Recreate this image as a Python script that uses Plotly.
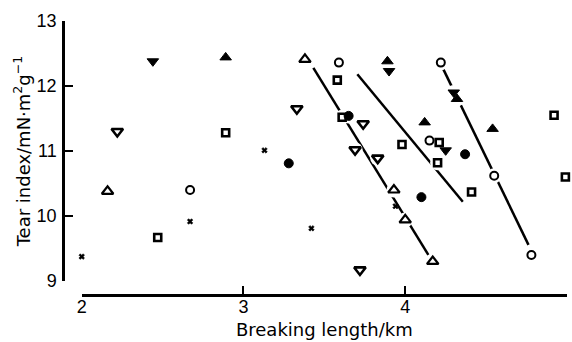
import plotly.graph_objects as go

# ---- data (breaking length km, tear index) ----
tri_open_x = [2.16, 3.38, 3.93, 4.00, 4.17]
tri_open_y = [10.38, 12.41, 10.40, 9.94, 9.30]

tri_fill_x = [2.89, 3.89, 4.12, 4.54, 4.32]
tri_fill_y = [12.44, 12.38, 11.44, 11.34, 11.80]

inv_open_x = [2.22, 3.33, 3.74, 3.69, 3.83, 3.72]
inv_open_y = [11.30, 11.65, 11.42, 11.02, 10.89, 9.17]

inv_fill_x = [2.44, 3.90, 4.30, 4.25]
inv_fill_y = [12.38, 12.23, 11.90, 11.01]

circ_open_x = [2.67, 3.59, 4.22, 4.15, 4.55, 4.78]
circ_open_y = [10.40, 12.36, 12.36, 11.16, 10.62, 9.40]

circ_fill_x = [3.28, 3.65, 4.10, 4.37]
circ_fill_y = [10.81, 11.54, 10.29, 10.95]

sq_x = [2.47, 2.89, 3.58, 3.61, 3.98, 4.21, 4.20, 4.41, 4.92, 4.99]
sq_y = [9.67, 11.28, 12.09, 11.52, 11.10, 11.13, 10.82, 10.37, 11.55, 10.60]

star_x = [2.00, 2.67, 3.13, 3.42, 3.94]
star_y = [9.375, 9.915, 11.01, 9.81, 10.15]

# fitted lines: [x_start, x_end], [y_start, y_end]
line1_x = [3.432, 4.143]
line1_y = [12.28, 9.40]
line2_x = [3.704, 4.356]
line2_y = [12.18, 10.22]
line3_x = [4.236, 4.762]
line3_y = [12.256, 9.556]

x_ticks = [2, 3, 4, 5]
y_ticks = [9, 10, 11, 12, 13]

fig = go.Figure()

for lx, ly in [(line1_x, line1_y), (line2_x, line2_y), (line3_x, line3_y)]:
    fig.add_trace(go.Scatter(x=lx, y=ly, mode="lines",
                             line=dict(color="black", width=2.5),
                             showlegend=False, hoverinfo="skip"))

# white halos so lines break around markers
all_x = tri_open_x + tri_fill_x + inv_open_x + inv_fill_x + circ_open_x + circ_fill_x + sq_x
all_y = tri_open_y + tri_fill_y + inv_open_y + inv_fill_y + circ_open_y + circ_fill_y + sq_y
fig.add_trace(go.Scatter(x=all_x, y=all_y, mode="markers",
                         marker=dict(symbol="circle", size=15, color="white"),
                         showlegend=False, hoverinfo="skip", cliponaxis=False))

def add(xs, ys, symbol, size, lw=2.2):
    fig.add_trace(go.Scatter(x=xs, y=ys, mode="markers", cliponaxis=False,
                             marker=dict(symbol=symbol, size=size, color="black",
                                         line=dict(color="black", width=lw)),
                             showlegend=False))

add(tri_open_x, tri_open_y, "triangle-up-open", 10)
add(tri_fill_x, tri_fill_y, "triangle-up", 10, 1)
add(inv_open_x, inv_open_y, "triangle-down-open", 10, 2.6)
add(inv_fill_x, inv_fill_y, "triangle-down", 10, 1)
add(circ_open_x, circ_open_y, "circle-open", 8, 2)
add(circ_fill_x, circ_fill_y, "circle", 9, 1)
add(sq_x, sq_y, "square-open", 7, 2.6)
add(star_x, star_y, "x", 5, 0.5)

axis_font = dict(family="Liberation Sans, Arial, sans-serif", size=18, color="black")
title_font = dict(family="DejaVu Sans, sans-serif", size=18, color="black")

fig.update_layout(
    width=572, height=342,
    margin=dict(l=63, r=5, t=21, b=47),
    paper_bgcolor="white", plot_bgcolor="white",
    xaxis=dict(range=[2, 5], domain=[0.0371, 1], anchor="free", position=0,
               tickvals=x_ticks, ticktext=[str(v) for v in x_ticks],
               ticks="inside", ticklen=8, tickwidth=2, tickcolor="black",
               ticklabelstandoff=-5,
               showline=True, linecolor="black", linewidth=2.5,
               showgrid=False, zeroline=False, tickfont=axis_font,
               title=dict(text="Breaking length/km", font=title_font, standoff=7)),
    yaxis=dict(range=[9, 13], domain=[0.0512, 1], anchor="free", position=0,
               tickvals=y_ticks, ticktext=[str(v) for v in y_ticks],
               ticks="inside", ticklen=8, tickwidth=2, tickcolor="black",
               ticklabelstandoff=2,
               showline=True, linecolor="black", linewidth=2.5,
               showgrid=False, zeroline=False, tickfont=axis_font,
               title=dict(text="Tear index/mN·m<sup>2</sup>g<sup>−1</sup>",
                          font=title_font, standoff=0)),
)

fig.write_html("out.html")
